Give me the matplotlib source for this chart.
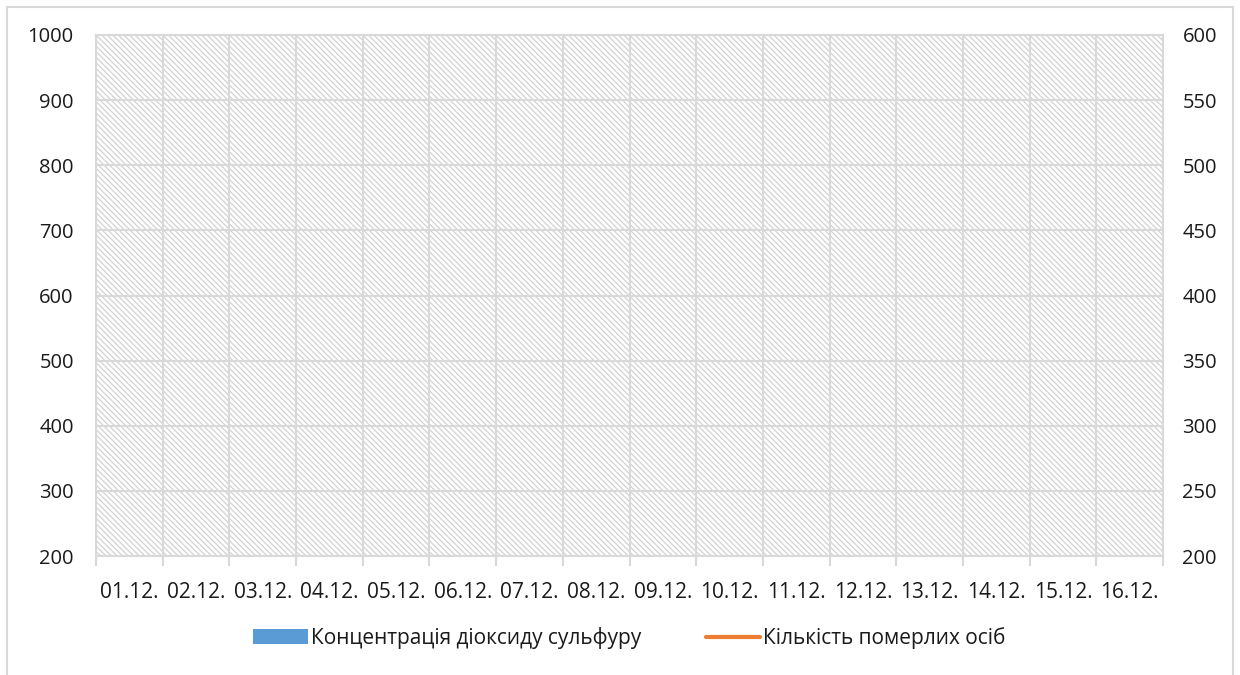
import numpy as np
import matplotlib
matplotlib.use("Agg")
import matplotlib.pyplot as plt
from matplotlib.patches import Rectangle, Patch
from matplotlib.lines import Line2D

plt.rcParams['font.family'] = ['Open Sans', 'DejaVu Sans']
plt.rcParams['hatch.linewidth'] = 0.9

# Dates of observation (December)
dates = ["01.12.", "02.12.", "03.12.", "04.12.", "05.12.", "06.12.", "07.12.", "08.12.",
         "09.12.", "10.12.", "11.12.", "12.12.", "13.12.", "14.12.", "15.12.", "16.12."]
# Sulphur dioxide concentration (no recorded values shown)
so2_concentration = [None, None, None, None, None, None, None, None,
                     None, None, None, None, None, None, None, None]
# Number of deaths (no recorded values shown)
deaths = [None, None, None, None, None, None, None, None,
          None, None, None, None, None, None, None, None]

left_ticks = [200, 300, 400, 500, 600, 700, 800, 900, 1000]
right_ticks = [200, 250, 300, 350, 400, 450, 500, 550, 600]

bar_color = "#5b9bd5"
line_color = "#ed7d31"
grid_color = "#d9d9d9"
text_color = "#1a1a1a"
fs = 14.5

W, H = 1240, 675
fig = plt.figure(figsize=(W / 100, H / 100), dpi=100)

# outer chart frame
fig.patches.append(Rectangle((6.5 / W, -0.05), (1233 - 6.5) / W, 1 - 6.5 / H + 0.05,
                             transform=fig.transFigure, fill=False,
                             edgecolor=grid_color, linewidth=1.5, zorder=0))

ax = fig.add_axes([96 / W, 1 - 556 / H, (1163 - 96) / W, (556 - 35) / H])
ax.set_zorder(1)

# hatched plot area
ax.add_patch(Rectangle((0, 0), 1, 1, transform=ax.transAxes, facecolor="white",
                       edgecolor="#d2d2d2", linewidth=0, hatch="\\\\\\\\\\\\", zorder=0))

x = np.arange(len(dates))
so2_vals = np.array([np.nan if v is None else v for v in so2_concentration], dtype=float)
death_vals = np.array([np.nan if v is None else v for v in deaths], dtype=float)

ax.bar(x, so2_vals, width=0.6, color=bar_color, zorder=3)
ax.set_xlim(-0.5, len(dates) - 0.5)
ax.set_ylim(200, 1000)
ax.set_yticks(left_ticks)
ax.set_xticks(x)
ax.set_xticklabels(dates, fontsize=15, color=text_color)
ax.set_xticks(np.arange(len(dates) + 1) - 0.5, minor=True)
ax.tick_params(axis='x', which='major', length=0, pad=19)
ax.tick_params(axis='x', which='minor', length=7, width=1.5, color=grid_color)
ax.tick_params(axis='y', length=0, labelsize=fs, labelcolor=text_color, pad=16)
ax.grid(axis='y', color=grid_color, linewidth=1.5, zorder=1)
ax.grid(axis='x', which='minor', color=grid_color, linewidth=1.5, zorder=1)
for s in ax.spines.values():
    s.set_color(grid_color)
    s.set_linewidth(1.5)

ax2 = ax.twinx()
ax2.plot(x, death_vals, color=line_color, linewidth=2.5)
ax2.set_ylim(200, 600)
ax2.set_yticks(right_ticks)
ax2.tick_params(axis='y', length=0, labelsize=fs, labelcolor=text_color, pad=14)
for s in ax2.spines.values():
    s.set_visible(False)

handles = [Patch(facecolor=bar_color, edgecolor='none'),
           Line2D([0], [0], color=line_color, linewidth=3, solid_capstyle='round')]
labels = ["Концентрація діоксиду сульфуру", "Кількість померлих осіб"]
fig.legend(handles, labels, loc='center', bbox_to_anchor=(0.5075, 1 - 638 / H), ncol=2,
           frameon=False, fontsize=15, handlelength=2.6, handletextpad=0.15,
           columnspacing=3.1, handleheight=0.72, labelcolor=text_color)

fig.savefig("out.png", dpi=100)
